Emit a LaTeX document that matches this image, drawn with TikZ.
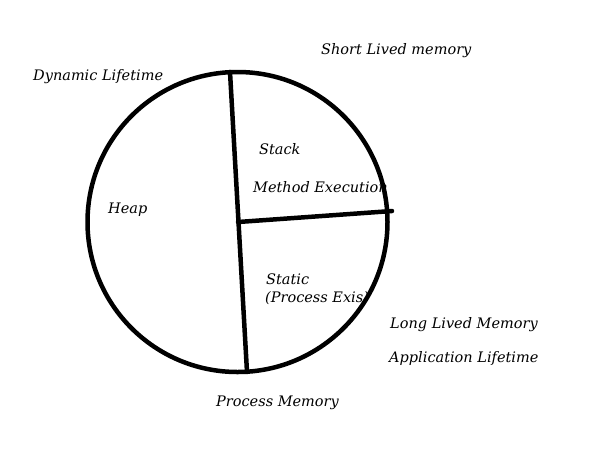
\documentclass[tikz,border=0pt]{standalone}
\usepackage{fontspec}
\setmainfont{DejaVu Serif}
\begin{document}
\begin{tikzpicture}[x=1pt,y=-1pt,
  lbl/.style={font=\fontsize{14.5}{16}\selectfont\itshape, inner sep=0pt, anchor=west, yshift=-1.5pt},
  thick line/.style={line width=4.5pt, line cap=round}]
\useasboundingbox (0,0) rectangle (589,459);
\fill[white] (0,0) rectangle (589,459);
\node[circle, draw, line width=4.5pt, minimum size=300pt, inner sep=0pt] (c) at (237.5,222) {};
\coordinate (top) at (230,72);
\coordinate (bot) at (247,372);
\coordinate (mid) at (238,222);
\coordinate (rend) at (392,211);
\draw[thick line] (top) -- (bot);
\draw[thick line] (mid) -- (rend);
\node[lbl] (dyn) at (33,75) {Dynamic Lifetime};
\node[lbl] (slm) at (321,49) {Short Lived memory};
\node[lbl] (stk) at (259,148) {Stack};
\node[lbl] (me) at (253,186) {Method Execution};
\node[lbl] (heap) at (108,208) {Heap};
\node[lbl] (st) at (266,278) {Static};
\node[lbl] (pe) at (265,297) {(Process Exis)};
\node[lbl] (llm) at (390,323) {Long Lived Memory};
\node[lbl] (al) at (389,357) {Application Lifetime};
\node[lbl] (pm) at (216,401) {Process Memory};
\end{tikzpicture}
\end{document}
